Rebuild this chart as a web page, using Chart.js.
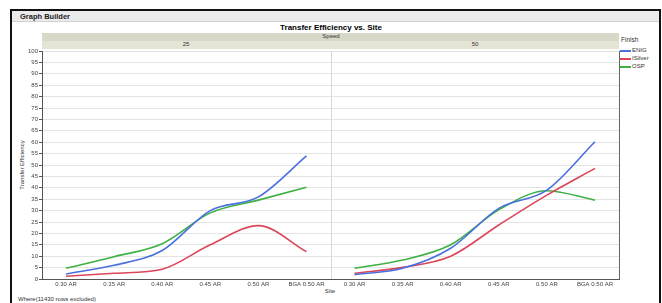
<!DOCTYPE html>
<html>
<head>
<meta charset="utf-8">
<script src="https://cdn.jsdelivr.net/npm/chart.js@4.4.0/dist/chart.umd.min.js"></script>
<style>
  body { margin: 0; background: #fff; font-family: "Liberation Sans", Arial, sans-serif; }
  #wrap { position: relative; width: 662px; height: 303px; overflow: hidden; }
  #chart { position: absolute; left: 0; top: 0; }
  .frame { position: absolute; left: 10px; top: 9px; width: 647px; height: 320px; border: 2px solid #111; }
  .header { position: absolute; left: 12px; top: 11px; width: 647px; height: 10px; background: #ebebeb; border-bottom: 1px solid #d2d2d2; }
  .txt { position: absolute; white-space: nowrap; color: #333; }
  .strip { position: absolute; left: 42px; width: 577px; height: 8px; }
  .leg-line { position: absolute; left: 620px; width: 11px; height: 2px; }
</style>
</head>
<body>
<div id="wrap">
  <div class="frame"></div>
  <div class="header"></div>
  <div class="txt" style="left:20px; top:12px; font-size:7.5px; font-weight:bold; color:#222;">Graph Builder</div>
  <div class="txt" style="left:331px; top:23px; transform:translateX(-50%); font-size:8px; font-weight:bold; color:#000;">Transfer Efficiency vs. Site</div>

  <div class="strip" style="top:33px; background:#d8d8c8;"></div>
  <div class="strip" style="top:41px; background:#e4e4d7;"></div>
  <div class="txt" style="left:331px; top:33px; transform:translateX(-50%); font-size:6px;">Speed</div>
  <div class="txt" style="left:186px; top:41px; transform:translateX(-50%); font-size:6px;">25</div>
  <div class="txt" style="left:475px; top:41px; transform:translateX(-50%); font-size:6px;">50</div>

  <div class="txt" style="left:621px; top:36px; font-size:6.5px;">Finish</div>
  <div class="leg-line" style="top:50px; background:#4a70e0;"></div>
  <div class="txt" style="left:632px; top:47px; font-size:6px;">ENIG</div>
  <div class="leg-line" style="top:58px; background:#dc4658;"></div>
  <div class="txt" style="left:632px; top:55px; font-size:6px;">ISilver</div>
  <div class="leg-line" style="top:66px; background:#3fb043;"></div>
  <div class="txt" style="left:632px; top:63px; font-size:6px;">OSP</div>

  <div class="txt" style="left:22px; top:165px; transform:translate(-50%,-50%) rotate(-90deg); font-size:6px;">Transfer Efficiency</div>
  <div class="txt" style="left:330px; top:288px; transform:translateX(-50%); font-size:6px;">Site</div>
  <div class="txt" style="left:18px; top:296px; font-size:6px;">Where(11430 rows excluded)</div>

  <canvas id="chart" width="662" height="303"></canvas>
</div>
<script>
// categories for each panel
const sites = ['0.30 AR', '0.35 AR', '0.40 AR', '0.45 AR', '0.50 AR', 'BGA 0.50 AR'];
const speeds = ['25', '50'];

// Speed 25
const enig25 = [2.2, 6.0, 12.5, 30.0, 36.0, 54.0];
const isilver25 = [1.2, 2.5, 4.3, 15.0, 23.4, 12.0];
const osp25 = [4.7, 9.8, 15.5, 29.0, 34.6, 40.2];

// Speed 50
const enig50 = [1.9, 4.7, 13.5, 31.0, 39.0, 60.2];
const isilver50 = [2.5, 5.1, 10.0, 23.7, 36.8, 48.5];
const osp50 = [4.7, 8.3, 15.0, 30.3, 38.7, 34.6];

const yTicks = { min: 0, max: 100, step: 5 };

const colors = { ENIG: '#4a70e0', ISilver: '#dc4658', OSP: '#3fb043' };

// one label row with both panels side by side
const labels = sites.concat(sites);
const empty = sites.map(() => null);

function panelData(values, panel) {
  return panel === 0 ? values.concat(empty) : empty.concat(values);
}

function makeSet(name, values, panel) {
  return {
    label: name,
    data: panelData(values, panel),
    borderColor: colors[name],
    borderWidth: 1.6,
    pointRadius: 0,
    fill: false,
    cubicInterpolationMode: 'monotone'
  };
}

const datasets = [
  makeSet('ENIG', enig25, 0), makeSet('ISilver', isilver25, 0), makeSet('OSP', osp25, 0),
  makeSet('ENIG', enig50, 1), makeSet('ISilver', isilver50, 1), makeSet('OSP', osp50, 1)
];

// divider between panels and right edge of plot
const panelLines = {
  id: 'panelLines',
  beforeDatasetsDraw(chart) {
    const { ctx, chartArea, scales } = chart;
    const mid = Math.round((scales.x.getPixelForValue(5) + scales.x.getPixelForValue(6)) / 2) + 0.5;
    ctx.save();
    ctx.lineWidth = 1;
    ctx.strokeStyle = '#d8d8d8';
    ctx.beginPath();
    ctx.moveTo(mid, chartArea.top);
    ctx.lineTo(mid, chartArea.bottom);
    ctx.stroke();
    ctx.strokeStyle = '#666';
    ctx.beginPath();
    ctx.moveTo(Math.round(chartArea.right) + 0.5, chartArea.top);
    ctx.lineTo(Math.round(chartArea.right) + 0.5, chartArea.bottom);
    ctx.stroke();
    ctx.restore();
  }
};

const tickFont = { family: 'Liberation Sans', size: 6 };

new Chart(document.getElementById('chart'), {
  type: 'line',
  data: { labels: labels, datasets: datasets },
  options: {
    responsive: false,
    animation: false,
    layout: { padding: { top: 51, right: 43, bottom: 0, left: 0 } },
    plugins: { legend: { display: false }, tooltip: { enabled: false } },
    scales: {
      x: {
        type: 'category',
        offset: true,
        grid: { display: false, drawTicks: false },
        border: { display: true, color: '#555', width: 1 },
        ticks: { color: '#444', font: tickFont, padding: 2, maxRotation: 0, autoSkip: false },
        afterFit(scale) { scale.height = 24; }
      },
      y: {
        min: yTicks.min,
        max: yTicks.max,
        grid: { color: '#e4e4e4', tickColor: '#555', tickLength: 3 },
        border: { display: true, color: '#555', width: 1 },
        ticks: { stepSize: yTicks.step, color: '#444', font: tickFont, padding: 1 },
        afterFit(scale) { scale.width = 42; }
      }
    }
  },
  plugins: [panelLines]
});
</script>
</body>
</html>
